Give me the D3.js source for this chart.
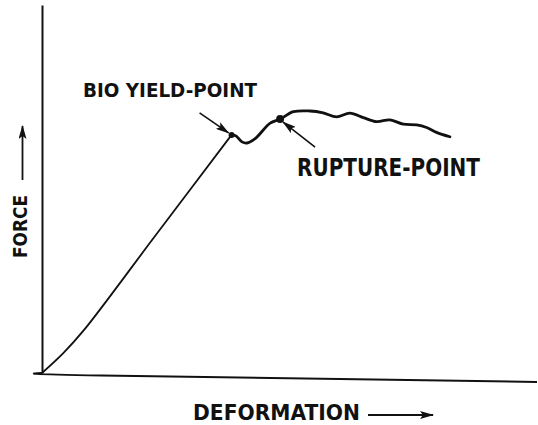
<!DOCTYPE html>
<html>
<head>
<meta charset="utf-8">
<script src="https://cdn.jsdelivr.net/npm/d3@7"></script>
<style>
    html, body { margin: 0; padding: 0; background: #fff; }
    svg { display: block; }
    text { font-family: "DejaVu Sans", sans-serif; font-weight: bold; fill: #111; }
</style>
</head>
<body>
<div id="chart"></div>
<script>
(function () {
    'use strict';

    // deformation (arbitrary units) / force (arbitrary units)
    var deformation = [0, 4.3, 8.5, 22.5, 38.3,
                       39.2, 40.4, 41.4, 43.0, 46.1, 48.1, 50.8, 54.1, 56.8, 59.5,
                       62.2, 64.9, 67.6, 70.3, 73.0, 75.7, 77.7, 79.7, 82.4];
    var force       = [0, 5.4, 11.7, 36.6, 64.7,
                       64.4, 62.8, 62.5, 63.6, 67.9, 69.0, 71.0, 71.2, 70.7, 69.6,
                       70.6, 69.4, 68.3, 68.8, 67.6, 67.4, 66.7, 65.4, 64.2];

    var pointLabels = ['BIO YIELD-POINT', 'RUPTURE-POINT'];
    var pointIndex  = [4, 10];

    var xLabel = 'DEFORMATION',
        yLabel = 'FORCE';

    var width = 538,
        height = 425;

    var x = d3.scaleLinear().domain([0, 100]).range([42, 537]);
    var y = d3.scaleLinear().domain([0, 100]).range([373, 5]);

    var svg = d3.select('#chart')
        .append('svg')
        .attr('width', width)
        .attr('height', height);

    var defs = svg.append('defs');
    defs.append('marker')
        .attr('id', 'head')
        .attr('viewBox', '0 0 14 8')
        .attr('refX', 13)
        .attr('refY', 4)
        .attr('markerUnits', 'userSpaceOnUse')
        .attr('markerWidth', 14)
        .attr('markerHeight', 8)
        .attr('orient', 'auto')
        .append('path')
        .attr('d', 'M0,0 L14,4 L0,8 L3,4 Z')
        .attr('fill', '#111');

    // y axis (plain line, no ticks)
    var yAxis = svg.append('g')
        .attr('transform', 'translate(' + x(0) + ',0)')
        .call(d3.axisLeft(y).ticks(0).tickSize(0).tickSizeOuter(0));
    yAxis.select('.domain').attr('stroke', '#111').attr('stroke-width', 2);

    // x axis, hand drawn so it sags a little to the right
    svg.append('path')
        .attr('d', d3.line().curve(d3.curveNatural)(
            [[x(0), y(0)], [x(12), y(0) + 2.5], [x(100), y(0) + 9]]))
        .attr('fill', 'none')
        .attr('stroke', '#111')
        .attr('stroke-width', 2);

    var pts = deformation.map(function (d, i) { return [d, force[i]]; });

    var line = d3.line()
        .x(function (d) { return x(d[0]); })
        .y(function (d) { return y(d[1]); })
        .curve(d3.curveCatmullRom.alpha(0.5));

    // elastic part, then the thicker wavy part after the bioyield point
    svg.append('path')
        .attr('d', line(pts.slice(0, pointIndex[0] + 1)))
        .attr('fill', 'none')
        .attr('stroke', '#111')
        .attr('stroke-width', 1.8);

    svg.append('path')
        .attr('d', line(pts.slice(pointIndex[0])))
        .attr('fill', 'none')
        .attr('stroke', '#111')
        .attr('stroke-width', 2.8)
        .attr('stroke-linejoin', 'round')
        .attr('stroke-linecap', 'round');

    // marked points
    svg.selectAll('circle.pt')
        .data(pointIndex)
        .enter()
        .append('circle')
        .attr('class', 'pt')
        .attr('cx', function (i) { return x(deformation[i]); })
        .attr('cy', function (i) { return y(force[i]); })
        .attr('r', function (i, k) { return k === 0 ? 3 : 4; })
        .attr('fill', '#111');

    // annotation arrows: [dx start, dy start, dx tip, dy tip] relative to the point
    var arrowOffsets = [[-32, -22, -3, -2], [35, 28, 3, 3]];
    svg.selectAll('line.ann')
        .data(pointIndex)
        .enter()
        .append('line')
        .attr('class', 'ann')
        .attr('x1', function (i, k) { return x(deformation[i]) + arrowOffsets[k][0]; })
        .attr('y1', function (i, k) { return y(force[i]) + arrowOffsets[k][1]; })
        .attr('x2', function (i, k) { return x(deformation[i]) + arrowOffsets[k][2]; })
        .attr('y2', function (i, k) { return y(force[i]) + arrowOffsets[k][3]; })
        .attr('stroke', '#111')
        .attr('stroke-width', 1.6)
        .attr('marker-end', 'url(#head)');

    // point labels
    var labelPos = [[83, 97, 19, 174], [297, 176, 24, 183]];
    svg.selectAll('text.ann')
        .data(pointLabels)
        .enter()
        .append('text')
        .attr('class', 'ann')
        .attr('x', function (d, k) { return labelPos[k][0]; })
        .attr('y', function (d, k) { return labelPos[k][1]; })
        .attr('font-size', function (d, k) { return labelPos[k][2]; })
        .attr('textLength', function (d, k) { return labelPos[k][3]; })
        .attr('lengthAdjust', 'spacingAndGlyphs')
        .text(function (d) { return d; });

    // axis titles with their arrows
    svg.append('text')
        .attr('x', 193)
        .attr('y', 420)
        .attr('font-size', 21)
        .attr('textLength', 167)
        .attr('lengthAdjust', 'spacingAndGlyphs')
        .text(xLabel);

    svg.append('line')
        .attr('x1', 368).attr('y1', 415)
        .attr('x2', 433).attr('y2', 415)
        .attr('stroke', '#111')
        .attr('stroke-width', 1.8)
        .attr('marker-end', 'url(#head)');

    svg.append('text')
        .attr('transform', 'translate(27,258) rotate(-90)')
        .attr('font-size', 19)
        .attr('textLength', 63)
        .attr('lengthAdjust', 'spacingAndGlyphs')
        .text(yLabel);

    svg.append('line')
        .attr('x1', 22.5).attr('y1', 180)
        .attr('x2', 22.5).attr('y2', 126)
        .attr('stroke', '#111')
        .attr('stroke-width', 1.8)
        .attr('marker-end', 'url(#head)');
}());
</script>
</body>
</html>
